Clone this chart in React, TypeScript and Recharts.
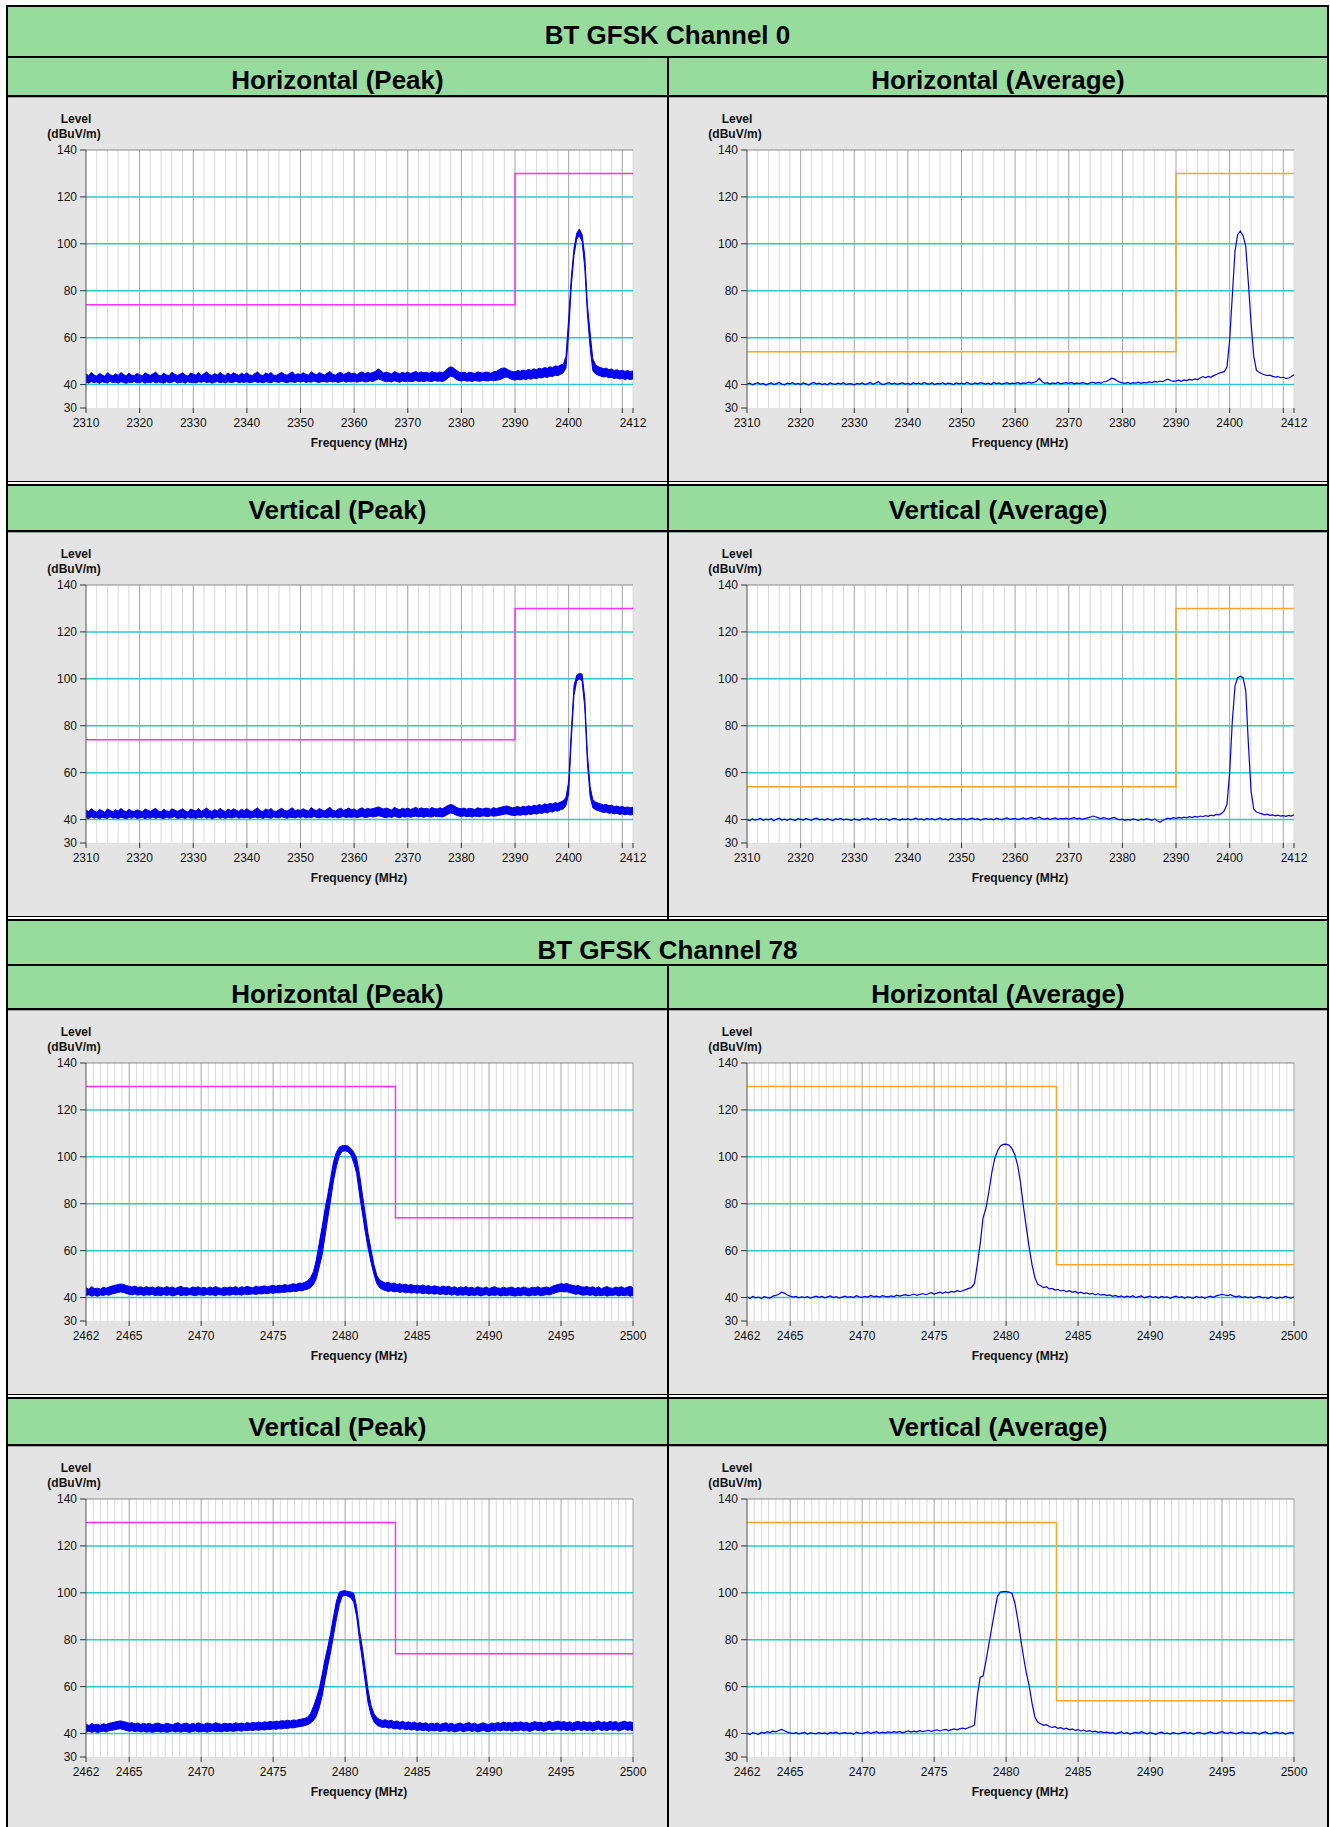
import React from 'react'
import { ComposedChart, Area, Line, XAxis, YAxis, CartesianGrid } from 'recharts'

// sampling of the traces (MHz)
const ch0Start = 2310
const ch0Step = 0.5
const ch78Start = 2462
const ch78Step = 0.2

// BT GFSK Channel 0, horizontal peak (band low / high, dBuV/m)
const ch0HorPeakHi = [
  44.5, 43.8, 45.2, 44.0, 43.6, 44.8, 44.1, 43.5, 45.0, 44.2, 43.7, 44.6, 43.9, 45.1, 44.3, 43.6, 44.9, 44.0, 43.8, 44.7,
  44.2, 43.6, 45.0, 44.4, 43.9, 44.6, 45.3, 44.0, 43.7, 44.8, 44.1, 43.8, 45.2, 44.5, 43.9, 44.3, 45.0, 44.1, 43.6, 44.9,
  44.4, 44.0, 45.1, 43.8, 44.6, 45.4, 44.2, 43.9, 44.7, 44.0, 45.2, 44.3, 43.8, 44.9, 44.1, 45.0, 44.4, 43.9, 44.8, 44.2,
  45.0, 44.1, 43.9, 44.7, 45.3, 44.2, 43.8, 44.9, 44.4, 45.1, 44.0, 43.9, 44.6, 45.2, 44.3, 44.0, 44.8, 45.4, 44.1, 44.6,
  44.3, 45.0, 44.4, 44.0, 45.5, 44.6, 44.2, 45.1, 44.5, 44.1, 44.9, 45.6, 44.4, 44.0, 44.8, 45.2, 44.3, 44.7, 45.3, 44.6,
  44.9, 44.2, 45.0, 45.4, 44.6, 45.2, 44.8, 45.1, 45.7, 46.6, 45.9, 44.9, 45.3, 44.9, 44.5, 45.6, 45.0, 44.6, 45.2, 44.8,
  45.3, 44.7, 45.1, 45.6, 44.9, 45.4, 45.0, 45.2, 44.8, 45.5, 45.1, 44.9, 45.4, 45.0, 45.8, 47.0, 47.6, 47.1, 46.2, 45.4,
  45.0, 45.3, 44.8, 45.2, 45.0, 44.7, 45.4, 45.1, 44.9, 45.3, 45.2, 44.8, 45.5, 45.6, 46.3, 46.9, 47.1, 46.6, 45.9, 45.6,
  45.4, 46.0, 45.7, 46.2, 45.9, 46.4, 46.1, 46.7, 46.3, 47.0, 46.6, 47.3, 46.9, 47.6, 47.2, 48.0, 47.7, 48.4, 48.6, 52,
  68, 86, 98, 104.5, 106.3, 104, 95, 74, 62, 51, 48.5, 47.6, 47.2, 46.8, 47.0, 46.4, 46.6, 46.0, 46.3, 45.8,
  46.1, 45.6, 46.0, 45.5, 45.8,
]
const ch0HorPeakLo = [
  41.0, 40.6, 41.3, 40.8, 41.1, 40.5, 41.2, 40.9, 40.7, 41.4, 40.8, 41.0, 40.6, 41.2, 40.9, 40.5, 41.1, 40.8, 41.3, 40.7,
  40.9, 41.2, 40.6, 41.0, 40.8, 41.3, 40.7, 41.1, 40.9, 40.6, 41.2, 40.8, 41.0, 41.4, 40.7, 40.9, 41.1, 40.6, 41.3, 40.8,
  41.0, 40.7, 41.2, 40.9, 41.4, 40.8, 41.1, 40.6, 41.0, 41.3, 40.8, 41.1, 40.7, 41.2, 40.9, 41.0, 41.4, 40.8, 41.1, 40.9,
  41.2, 40.8, 41.0, 41.3, 40.9, 41.1, 40.7, 41.2, 41.0, 40.8, 41.3, 41.1, 40.9, 41.4, 41.0, 40.8, 41.2, 41.1, 40.9, 41.3,
  41.1, 41.4, 40.9, 41.2, 41.0, 41.5, 41.1, 40.9, 41.3, 41.2, 41.0, 41.4, 41.1, 41.3, 40.9, 41.2, 41.5, 41.0, 41.3, 41.1,
  41.4, 41.0, 41.3, 41.5, 41.1, 41.2, 41.6, 41.3, 41.8, 42.4, 42.0, 41.5, 41.2, 41.4, 41.1, 41.6, 41.3, 41.0, 41.5, 41.2,
  41.5, 41.2, 41.4, 41.7, 41.3, 41.5, 41.2, 41.6, 41.4, 41.3, 41.7, 41.4, 41.5, 41.3, 41.8, 42.8, 43.6, 43.2, 42.3, 41.7,
  41.5, 41.8, 41.4, 41.6, 41.3, 41.7, 41.5, 41.4, 41.8, 41.6, 41.5, 41.9, 41.6, 41.8, 42.0, 42.4, 43.0, 43.2, 42.6, 42.1,
  41.9, 42.2, 42.0, 42.4, 42.1, 42.6, 42.3, 42.8, 42.5, 43.0, 42.8, 43.3, 43.0, 43.6, 43.4, 44.0, 43.8, 44.4, 45.0, 47,
  62, 82, 95, 102, 103.5, 101, 90, 70, 56, 46, 44.5, 44.0, 43.6, 43.2, 43.4, 42.9, 43.0, 42.6, 42.8, 42.4,
  42.6, 42.2, 42.5, 42.1, 42.4,
]

// Channel 0, horizontal average
const ch0HorAvg = [
  40.2, 40.6, 39.9, 40.4, 40.8, 40.1, 40.5, 39.8, 40.3, 40.7, 40.0, 40.4, 40.9, 40.2, 39.9, 40.6, 40.3, 40.8, 40.1, 40.5,
  40.0, 40.7, 40.3, 39.8, 40.5, 40.9, 40.2, 40.6, 40.0, 40.4, 39.9, 40.7, 40.3, 40.1, 40.6, 40.2, 40.8, 40.0, 40.4, 40.3,
  39.9, 40.5, 40.2, 40.7, 40.0, 40.4, 40.9, 40.1, 40.6, 41.2, 40.3, 40.0, 40.5, 40.8, 40.2, 40.6, 40.1, 40.4, 40.7, 40.2,
  40.5, 40.0, 40.8, 40.3, 40.6, 40.1, 40.9, 40.4, 40.2, 40.7, 40.0, 40.5, 40.3, 40.8, 40.1, 40.6, 40.4, 40.0, 40.7, 40.3,
  40.6, 40.2, 40.9, 40.4, 40.1, 40.7, 40.3, 40.8, 40.5, 40.2, 40.6, 40.0, 40.9, 40.4, 40.7, 40.2, 40.5, 40.8, 40.3, 40.6,
  40.4, 40.9, 40.3, 40.7, 40.5, 41.0, 40.6, 40.9, 41.4, 42.6, 41.3, 40.5, 40.8, 40.2, 40.7, 40.4, 40.9, 40.3, 40.6, 40.8,
  40.5, 40.9, 40.3, 40.7, 40.4, 40.8, 40.6, 40.2, 40.7, 41.0, 40.5, 40.9, 40.6, 41.1, 41.3, 41.9, 42.7, 42.4, 41.6, 41.0,
  40.7, 40.5, 40.9, 40.4, 40.8, 40.6, 41.0, 40.5, 40.9, 40.7, 41.1, 40.8, 41.3, 41.0, 41.5, 41.2, 41.8, 42.3, 41.7, 41.4,
  41.6, 41.9, 41.4, 42.0, 41.7, 42.2, 41.9, 42.4, 42.1, 42.8, 43.4, 42.9, 43.5, 43.1, 43.8, 44.3, 44.8, 45.2, 45.5, 47.5,
  59, 78, 97, 104, 105.4, 103.5, 99, 83, 66, 52, 46, 45.2, 44.6, 44.2, 43.8, 44.0, 43.5, 43.2, 43.4, 42.9,
  43.1, 42.6, 42.8, 43.4, 44.2,
]

// Channel 0, vertical peak
const ch0VerPeakHi = [
  44.0, 43.4, 44.6, 43.7, 43.2, 44.3, 43.8, 43.1, 44.5, 43.9, 43.3, 44.2, 43.6, 44.7, 43.9, 43.2, 44.4, 43.7, 43.4, 44.1,
  43.8, 43.2, 44.5, 44.0, 43.5, 44.2, 44.8, 43.6, 43.3, 44.4, 43.7, 43.4, 44.6, 44.1, 43.5, 43.9, 44.6, 43.7, 43.2, 44.5,
  44.0, 43.6, 44.7, 43.4, 44.2, 44.9, 43.8, 43.5, 44.3, 43.6, 44.8, 43.9, 43.4, 44.5, 43.7, 44.6, 44.0, 43.5, 44.4, 43.8,
  44.6, 43.7, 43.5, 44.3, 44.9, 43.8, 43.4, 44.5, 44.0, 44.7, 43.6, 43.5, 44.2, 44.8, 43.9, 43.6, 44.4, 45.0, 43.7, 44.2,
  43.9, 44.6, 44.0, 43.6, 45.1, 44.2, 43.8, 44.7, 44.1, 43.7, 44.5, 45.2, 44.0, 43.6, 44.4, 44.8, 43.9, 44.3, 44.9, 44.2,
  44.5, 43.8, 44.6, 45.0, 44.2, 44.8, 44.4, 44.7, 45.0, 45.4, 44.9, 44.5, 44.9, 44.5, 44.1, 45.2, 44.6, 44.2, 44.8, 44.4,
  44.9, 44.3, 44.7, 45.2, 44.5, 45.0, 44.6, 44.8, 44.4, 45.1, 44.7, 44.5, 45.0, 44.6, 45.4, 46.0, 46.4, 46.1, 45.3, 44.8,
  44.6, 44.9, 44.4, 44.8, 44.6, 44.3, 45.0, 44.7, 44.5, 44.9, 44.8, 44.4, 45.1, 44.6, 45.0, 45.3, 45.6, 45.8, 45.4, 45.0,
  45.2, 45.6, 45.1, 45.7, 45.3, 45.9, 45.5, 46.1, 45.8, 46.4, 46.0, 46.7, 46.3, 46.9, 46.6, 47.2, 46.9, 47.5, 48.0, 49.5,
  56, 78, 97, 101.5, 102.3, 102, 92, 68, 54, 48.5, 47.5, 47.0, 46.6, 46.2, 46.5, 45.9, 46.1, 45.5, 45.8, 45.3,
  45.6, 45.1, 45.4, 45.0, 45.3,
]
const ch0VerPeakLo = [
  40.8, 40.4, 41.1, 40.6, 40.9, 40.3, 41.0, 40.7, 40.5, 41.2, 40.6, 40.8, 40.4, 41.0, 40.7, 40.3, 40.9, 40.6, 41.1, 40.5,
  40.7, 41.0, 40.4, 40.8, 40.6, 41.1, 40.5, 40.9, 40.7, 40.4, 41.0, 40.6, 40.8, 41.2, 40.5, 40.7, 40.9, 40.4, 41.1, 40.6,
  40.8, 40.5, 41.0, 40.7, 41.2, 40.6, 40.9, 40.4, 40.8, 41.1, 40.6, 40.9, 40.5, 41.0, 40.7, 40.8, 41.2, 40.6, 40.9, 40.7,
  41.0, 40.6, 40.8, 41.1, 40.7, 40.9, 40.5, 41.0, 40.8, 40.6, 41.1, 40.9, 40.7, 41.2, 40.8, 40.6, 41.0, 40.9, 40.7, 41.1,
  40.9, 41.2, 40.7, 41.0, 40.8, 41.3, 40.9, 40.7, 41.1, 41.0, 40.8, 41.2, 40.9, 41.1, 40.7, 41.0, 41.3, 40.8, 41.1, 40.9,
  41.2, 40.8, 41.1, 41.3, 40.9, 41.0, 41.4, 41.1, 41.3, 41.6, 41.4, 41.0, 40.8, 41.2, 40.9, 41.4, 41.1, 40.8, 41.3, 41.0,
  41.3, 41.0, 41.2, 41.5, 41.1, 41.3, 41.0, 41.4, 41.2, 41.1, 41.5, 41.2, 41.3, 41.1, 41.6, 42.3, 42.8, 42.5, 41.9, 41.5,
  41.3, 41.6, 41.2, 41.4, 41.1, 41.5, 41.3, 41.2, 41.6, 41.4, 41.3, 41.7, 41.4, 41.6, 41.8, 42.0, 42.3, 42.4, 42.0, 41.8,
  41.7, 42.0, 41.8, 42.2, 41.9, 42.4, 42.1, 42.6, 42.3, 42.8, 42.6, 43.1, 42.8, 43.4, 43.2, 43.8, 43.6, 44.2, 44.5, 46,
  51, 74, 93, 99, 100, 99, 88, 64, 50, 45, 44.2, 43.8, 43.4, 43.0, 43.2, 42.7, 42.8, 42.4, 42.6, 42.2,
  42.4, 42.0, 42.3, 41.9, 42.2,
]

// Channel 0, vertical average
const ch0VerAvg = [
  40.0, 39.6, 40.3, 39.8, 40.1, 40.5, 39.7, 40.2, 39.9, 40.4, 39.5, 40.1, 40.6, 39.8, 40.2, 39.7, 40.3, 40.0, 39.6, 40.4,
  40.1, 39.8, 40.5, 40.0, 39.7, 40.3, 40.6, 39.9, 40.2, 39.8, 40.4, 40.0, 39.6, 40.3, 40.1, 40.5, 39.8, 40.2, 40.0, 39.7,
  40.3, 40.0, 39.7, 40.4, 40.1, 40.6, 39.9, 40.2, 40.5, 39.8, 40.3, 40.0, 40.4, 39.7, 40.2, 40.5, 40.1, 39.8, 40.3, 40.0,
  40.4, 39.9, 40.2, 40.6, 40.0, 40.3, 39.8, 40.5, 40.1, 40.4, 39.9, 40.2, 40.7, 40.0, 40.3, 39.8, 40.5, 40.2, 40.0, 40.4,
  40.1, 40.5, 39.9, 40.3, 40.6, 40.0, 40.4, 39.8, 40.2, 40.5, 40.1, 40.3, 39.9, 40.6, 40.2, 40.0, 40.4, 40.7, 40.1, 40.3,
  40.5, 40.0, 40.3, 40.7, 40.2, 40.5, 40.9, 40.3, 40.6, 41.0, 40.4, 40.2, 40.6, 40.0, 40.4, 40.7, 40.1, 40.5, 40.3, 40.6,
  40.2, 40.5, 40.8, 40.3, 40.6, 40.1, 40.4, 40.7, 41.0, 41.5, 41.2, 40.7, 40.4, 40.8, 40.5, 40.2, 40.6, 40.9, 40.3, 39.9,
  40.2, 39.7, 40.1, 39.8, 40.3, 40.0, 39.6, 40.2, 39.9, 40.4, 40.1, 39.7, 40.3, 39.5, 38.8, 39.6, 40.1, 40.6, 40.3, 40.8,
  40.5, 40.9, 40.6, 41.0, 40.7, 41.2, 40.8, 41.3, 41.0, 41.5, 41.2, 41.7, 41.4, 41.9, 41.6, 42.2, 42.0, 42.6, 43.8, 46.5,
  60, 82, 97, 100.5, 101.1, 100.5, 95, 72, 52, 44.5, 43.2, 42.8, 42.4, 42.0, 42.3, 41.8, 42.0, 41.6, 41.9, 41.5,
  41.7, 41.4, 41.8, 41.5, 42.0,
]

// BT GFSK Channel 78, horizontal peak
const ch78HorPeakHi = [
  44.2, 43.5, 44.6, 43.8, 44.0, 43.6, 44.4, 44.0, 44.5, 44.9, 45.2, 45.5, 45.8, 45.6, 45.1, 44.8, 44.5, 44.9, 44.3, 44.6, 44.1, 44.7, 44.2, 44.5, 44.0,
  44.6, 44.3, 44.1, 44.7, 44.2, 44.5, 43.9, 44.4, 44.8, 44.1, 44.3, 43.8, 44.5, 44.2, 44.6, 44.0, 44.4, 43.9, 44.5, 44.1, 44.7, 44.2, 43.9, 44.4, 44.1,
  44.5, 44.2, 44.7, 44.0, 44.6, 44.3, 44.8, 44.4, 44.1, 44.9, 44.5, 44.7, 45.0, 44.6, 44.9, 45.2, 44.8, 45.3, 45.0, 45.6, 45.2, 45.5, 45.9, 45.6, 46.2,
  46.0, 46.5, 47.2, 48.5, 51, 56, 63, 70, 77.5, 84, 91, 98, 102, 104.2, 104.7, 104.8, 104.6, 103.6, 102, 99.5, 92.5, 84, 75.5, 67, 60.5,
  54, 49.5, 47.5, 46.8, 46.2, 46.5, 45.9, 46.2, 45.6, 45.9, 45.4, 45.7, 45.2, 45.6, 45.0, 45.3, 44.9, 45.4, 44.8, 45.1, 44.6, 45.0, 44.7, 44.4, 44.9,
  44.5, 44.8, 44.2, 44.6, 44.0, 44.5, 44.3, 44.7, 44.1, 44.4, 43.9, 44.6, 44.2, 44.0, 44.5, 43.8, 44.3, 44.6, 44.1, 43.9, 44.4, 44.0, 44.2, 44.5, 43.8,
  44.3, 44.0, 44.5, 44.1, 43.9, 44.4, 44.2, 44.6, 44.0, 44.3, 44.5, 44.1, 44.8, 45.2, 45.6, 45.9, 45.7, 46.0, 45.5, 45.2, 44.9, 45.1, 44.6, 44.4, 44.7,
  44.2, 44.6, 44.0, 44.5, 43.8, 44.3, 44.7, 44.1, 43.9, 44.5, 44.2, 44.6, 44.0, 44.4, 44.8, 44.2,
]
const ch78HorPeakLo = [
  40.8, 41.2, 40.6, 41.0, 40.5, 41.1, 40.9, 41.3, 41.0, 41.5, 41.8, 42.1, 42.4, 42.2, 41.7, 41.4, 41.1, 41.5, 41.0, 41.3, 40.9, 41.2, 41.0, 41.4, 40.8,
  41.1, 40.8, 41.3, 40.9, 41.2, 40.7, 41.0, 41.4, 40.8, 41.1, 40.9, 41.3, 41.0, 40.8, 41.2, 41.1, 40.9, 41.4, 41.0, 41.2, 40.8, 41.3, 41.1, 40.9, 41.2,
  41.0, 41.4, 41.1, 41.3, 41.0, 41.5, 41.2, 41.4, 41.6, 41.3, 41.7, 41.5, 41.8, 41.6, 42.0, 41.8, 42.1, 42.0, 42.3, 42.2, 42.5, 42.4, 42.7, 42.6, 43.0,
  42.9, 43.3, 43.6, 44.2, 45.5, 48, 53, 58, 66, 74, 82, 90, 96, 100.5, 102.3, 102.6, 102.2, 100.8, 97.5, 93, 84, 76, 68, 61, 55,
  50, 46, 44.2, 43.4, 43.0, 42.6, 42.9, 42.4, 42.7, 42.2, 42.5, 42.0, 42.3, 41.9, 42.2, 41.8, 42.1, 41.6, 41.9, 41.5, 41.8, 41.4, 41.7, 41.3, 41.6,
  41.2, 41.5, 41.0, 41.4, 40.9, 41.2, 41.0, 41.3, 40.8, 41.1, 40.9, 41.2, 40.7, 41.0, 41.3, 40.8, 41.1, 40.9, 41.2, 40.7, 41.0, 40.8, 41.1, 40.9, 40.6,
  41.0, 40.8, 41.2, 40.9, 40.7, 41.1, 40.9, 41.2, 40.8, 41.0, 41.3, 41.1, 41.6, 42.0, 42.4, 42.6, 42.4, 42.5, 42.1, 41.8, 41.4, 41.6, 41.1, 41.0, 41.3,
  40.9, 41.2, 40.7, 41.0, 40.8, 41.1, 40.6, 41.0, 40.9, 41.2, 40.7, 41.0, 40.8, 41.1, 40.6, 40.9,
]

// Channel 78, horizontal average
const ch78HorAvg = [
  40.3, 39.7, 40.5, 39.9, 40.2, 39.6, 40.4, 40.0, 39.8, 40.6, 40.9, 41.4, 42.3, 41.9, 41.1, 40.6, 40.2, 40.5, 39.9, 40.3, 40.0, 40.4, 39.8, 40.2, 40.6,
  40.1, 40.5, 39.9, 40.3, 40.7, 40.0, 40.4, 39.8, 40.2, 40.6, 40.1, 40.4, 40.0, 40.8, 40.3, 40.1, 40.5, 40.2, 40.9, 40.4, 40.6, 40.2, 40.8, 40.5, 40.3,
  40.7, 40.4, 41.0, 40.6, 40.9, 41.2, 40.8, 41.1, 41.5, 40.9, 41.3, 41.7, 41.2, 41.6, 42.1, 41.5, 41.9, 42.3, 41.8, 42.4, 42.0, 42.6, 42.3, 42.9, 42.5,
  43.0, 43.4, 43.9, 44.3, 46, 54, 63, 74, 78, 85, 93, 99, 102.5, 104.6, 105.3, 105.4, 105.0, 103.6, 101, 96.5, 89, 79, 70, 61.5, 54,
  48.5, 45.6, 45.0, 44.2, 44.6, 43.7, 43.9, 43.2, 43.5, 42.8, 43.1, 42.5, 42.9, 42.2, 42.6, 41.9, 42.3, 41.7, 42.0, 41.5, 41.8, 41.2, 41.6, 41.0, 41.3,
  40.8, 41.1, 40.5, 40.9, 40.3, 40.7, 40.1, 40.6, 40.2, 40.8, 40.0, 40.4, 40.7, 39.9, 40.3, 40.6, 40.0, 40.4, 39.8, 40.5, 40.1, 40.3, 39.7, 40.2, 40.6,
  40.0, 40.4, 39.8, 40.3, 40.1, 39.7, 40.5, 40.0, 40.3, 39.8, 40.2, 40.6, 40.1, 40.7, 41.0, 41.4, 41.1, 40.8, 41.2, 40.6, 40.3, 40.7, 40.0, 40.4, 39.9,
  40.3, 39.8, 40.2, 40.5, 39.9, 40.1, 39.6, 40.4, 40.0, 39.7, 40.2, 39.9, 40.5, 40.1, 39.8, 40.3,
]

// Channel 78, vertical peak
const ch78VerPeakHi = [
  44.0, 43.4, 44.3, 43.7, 43.9, 43.5, 44.2, 43.8, 44.4, 44.6, 44.9, 45.2, 45.4, 45.1, 44.8, 44.4, 44.6, 44.1, 44.5, 43.9, 44.3, 44.0, 44.4, 43.8, 44.2,
  44.5, 44.0, 43.8, 44.4, 44.1, 43.7, 44.3, 44.6, 43.9, 44.2, 44.5, 43.8, 44.3, 44.0, 44.6, 44.1, 43.9, 44.5, 44.2, 44.0, 44.6, 44.3, 43.9, 44.4, 44.1,
  44.3, 44.0, 44.6, 44.2, 44.5, 44.1, 44.7, 44.3, 44.8, 44.5, 44.9, 44.6, 45.0, 44.8, 45.2, 44.9, 45.3, 45.1, 45.5, 45.3, 45.7, 45.4, 45.8, 45.6, 46.0,
  46.2, 46.5, 47.0, 48.5, 51.5, 55, 59, 65, 71.5, 77, 83, 90, 96.5, 100.3, 100.8, 100.9, 100.5, 100.4, 99.8, 94, 84, 76.5, 67.5, 58.5, 52,
  48.5, 46.8, 46.0, 45.6, 45.9, 45.3, 45.7, 45.0, 45.4, 44.8, 45.2, 44.6, 45.0, 44.5, 44.9, 44.3, 44.7, 44.2, 44.6, 44.0, 44.4, 44.1, 44.5, 43.9, 44.3,
  44.6, 44.0, 44.4, 43.8, 44.2, 44.5, 43.9, 44.3, 44.7, 44.0, 44.4, 43.8, 44.2, 44.6, 44.1, 43.9, 44.5, 44.2, 44.7, 44.3, 44.9, 44.5, 44.8, 44.4, 44.9,
  44.6, 45.0, 44.5, 44.8, 44.3, 44.7, 45.1, 44.6, 44.9, 44.4, 44.8, 45.2, 44.7, 45.0, 45.3, 44.8, 45.1, 44.6, 45.0, 44.5, 44.9, 45.2, 44.7, 45.1, 44.6,
  45.0, 44.5, 44.9, 45.3, 44.7, 45.0, 44.6, 45.2, 44.8, 45.1, 44.5, 44.9, 45.3, 44.8, 45.0, 44.6,
]
const ch78VerPeakLo = [
  40.6, 41.0, 40.5, 40.9, 40.4, 40.8, 41.0, 40.7, 41.2, 41.4, 41.6, 41.9, 42.0, 41.7, 41.3, 41.0, 41.2, 40.8, 41.1, 40.7, 41.0, 40.6, 40.9, 40.5, 40.8,
  41.0, 40.6, 40.9, 40.5, 40.8, 41.1, 40.7, 40.9, 40.6, 41.0, 40.8, 40.5, 40.9, 41.1, 40.7, 40.8, 41.0, 40.6, 40.9, 41.2, 40.8, 41.0, 40.7, 41.1, 40.9,
  41.2, 40.9, 41.1, 41.3, 41.0, 41.4, 41.2, 41.5, 41.3, 41.6, 41.4, 41.7, 41.5, 41.8, 41.7, 42.0, 41.8, 42.1, 42.0, 42.3, 42.2, 42.5, 42.4, 42.7, 42.9,
  43.1, 43.4, 43.8, 44.5, 45.5, 47.5, 51, 56, 62.5, 69, 75, 82, 89, 95, 98.5, 99, 98.5, 97.8, 96, 90, 80, 71, 62, 53, 48,
  45.0, 43.6, 43.0, 42.6, 42.8, 42.3, 42.5, 42.0, 42.3, 41.8, 42.1, 41.6, 41.9, 41.5, 41.8, 41.3, 41.6, 41.2, 41.5, 41.0, 41.3, 41.1, 41.4, 40.9, 41.2,
  41.3, 40.9, 41.2, 40.7, 41.0, 41.3, 40.8, 41.1, 41.4, 40.9, 41.2, 40.7, 41.0, 41.4, 40.9, 40.8, 41.3, 41.0, 41.5, 41.1, 41.6, 41.2, 41.5, 41.0, 41.4,
  41.2, 41.6, 41.1, 41.4, 40.9, 41.3, 41.7, 41.2, 41.5, 41.0, 41.4, 41.8, 41.3, 41.6, 41.9, 41.4, 41.7, 41.2, 41.6, 41.1, 41.5, 41.8, 41.3, 41.7, 41.2,
  41.6, 41.1, 41.5, 41.9, 41.3, 41.6, 41.2, 41.8, 41.4, 41.7, 41.1, 41.5, 41.9, 41.4, 41.6, 41.2,
]

// Channel 78, vertical average
const ch78VerAvg = [
  40.1, 39.6, 40.4, 40.0, 39.7, 40.5, 40.2, 40.8, 40.4, 41.0, 40.7, 41.3, 41.8, 41.2, 40.6, 40.3, 40.0, 40.4, 39.9, 40.2, 40.5, 39.8, 40.3, 40.1, 39.9,
  40.4, 40.0, 40.3, 39.8, 40.5, 40.1, 40.6, 39.9, 40.2, 40.4, 40.0, 40.3, 39.7, 40.6, 40.2, 40.0, 40.4, 40.7, 40.1, 40.5, 40.8, 40.2, 40.6, 40.3, 40.7,
  40.4, 40.8, 40.5, 40.9, 40.3, 40.7, 41.1, 40.6, 41.0, 40.7, 41.2, 40.8, 41.1, 41.4, 40.9, 41.3, 41.6, 41.1, 41.5, 41.8, 41.3, 41.7, 42.0, 41.6, 42.1,
  42.3, 42.0, 42.6, 43.0, 43.6, 56, 64, 64.5, 71, 78, 85, 92, 98.5, 100.3, 100.5, 100.5, 100.3, 99.8, 96, 89, 81, 73, 66, 60.5, 53,
  47, 44.8, 44.2, 43.5, 43.8, 43.0, 42.6, 42.9, 42.2, 42.5, 41.9, 42.3, 41.6, 42.0, 41.4, 41.7, 41.1, 41.5, 40.9, 41.2, 40.7, 41.0, 40.5, 40.8, 40.4,
  40.6, 40.2, 40.5, 39.9, 40.3, 40.7, 40.0, 40.4, 39.8, 40.2, 40.5, 40.1, 40.8, 40.3, 39.9, 40.4, 40.1, 39.7, 40.3, 40.6, 40.0, 40.2, 39.8, 40.4, 40.1,
  39.9, 40.3, 40.6, 40.0, 40.4, 39.8, 40.2, 40.5, 40.1, 39.9, 40.3, 40.7, 40.2, 40.0, 40.5, 40.8, 40.3, 40.1, 40.6, 40.2, 39.9, 40.4, 40.7, 40.1, 40.3,
  40.0, 40.5, 40.2, 39.8, 40.4, 40.7, 40.1, 39.9, 40.3, 40.6, 40.0, 40.4, 39.8, 40.2, 40.5, 40.1,
]

// limit lines (frequency corners, level)
const ch0LimitFreq = [2310, 2390, 2390, 2412]
const ch0PeakLimit = [74, 74, 130, 130]
const ch0AvgLimit = [54, 54, 130, 130]
const ch78LimitFreq = [2462, 2483.5, 2483.5, 2500]
const ch78PeakLimit = [130, 130, 74, 74]
const ch78AvgLimit = [130, 130, 54, 54]

// axes
const yTicks = [30, 40, 60, 80, 100, 120, 140]
const yLevelLines = [40, 60, 80, 100, 120]
const ch0Ticks = [2310, 2320, 2330, 2340, 2350, 2360, 2370, 2380, 2390, 2400, 2410, 2412]
const ch0Unlabeled = [2410]
const ch78Ticks = [2462, 2465, 2470, 2475, 2480, 2485, 2490, 2495, 2500]

const ch0Major = [2320, 2330, 2340, 2350, 2360, 2370, 2380, 2390, 2400, 2410]
const ch0Minor = Array.from({ length: 51 }, (_, i) => 2312 + 2 * i).filter(v => v % 10 !== 0)
const ch78Major = [2465, 2470, 2475, 2480, 2485, 2490, 2495, 2500]
const ch78Minor = Array.from({ length: 76 }, (_, i) => 2462.5 + 0.5 * i).filter(v => v % 5 !== 0)

const FONT = "'Liberation Sans', Arial, Helvetica, sans-serif"
const GREEN = '#97dc9d'
const PANEL = '#e4e4e4'
const PANEL_H = 384

const freqs = (start: number, step: number, n: number) =>
  Array.from({ length: n }, (_, i) => Math.round((start + i * step) * 100) / 100)

const bandRows = (start: number, step: number, lo: number[], hi: number[]) => {
  const n = Math.min(lo.length, hi.length)
  return freqs(start, step, n).map((f, i) => ({ f, band: [lo[i], hi[i]] }))
}
const lineRows = (start: number, step: number, v: number[]) =>
  freqs(start, step, v.length).map((f, i) => ({ f, v: v[i] }))
const limitRows = (f: number[], v: number[]) => f.map((x, i) => ({ f: x, v: v[i] }))

interface SpectrumProps {
  width: number
  data: any[]
  peak: boolean
  limit: { f: number; v: number }[]
  limitColor: string
  domain: [number, number]
  ticks: number[]
  unlabeled: number[]
  minor: number[]
  major: number[]
}

function Spectrum({ width, data, peak, limit, limitColor, domain, ticks, unlabeled, minor, major }: SpectrumProps) {
  return (
    <ComposedChart width={width} height={PANEL_H} margin={{ top: 53, right: width - 625, bottom: 43, left: 0 }}>
      <CartesianGrid fill="#ffffff" horizontal={false} verticalValues={minor} stroke="#dadada" />
      <CartesianGrid horizontal={false} verticalValues={major} stroke="#a4a4a4" />
      <CartesianGrid vertical={false} horizontalValues={yLevelLines} stroke="#2ccaca" strokeWidth={1.5} />
      <CartesianGrid vertical={false} horizontalValues={[140]} stroke="#8a8a8a" />
      <XAxis
        type="number"
        dataKey="f"
        domain={domain}
        ticks={ticks}
        interval={0}
        allowDataOverflow
        height={30}
        axisLine={false}
        tickSize={5}
        tickMargin={5}
        tickLine={{ stroke: '#333' }}
        tick={{ fontSize: 12, fill: '#111' }}
        tickFormatter={(v: number) => (unlabeled.includes(v) ? '' : String(v))}
      />
      <YAxis
        type="number"
        domain={[30, 140]}
        ticks={yTicks}
        interval={0}
        allowDataOverflow
        width={78}
        axisLine={{ stroke: '#555' }}
        tickSize={6}
        tickMargin={3}
        tickLine={{ stroke: '#333' }}
        tick={{ fontSize: 12, fill: '#111' }}
      />
      {peak ? (
        <Area
          data={data}
          type="linear"
          dataKey="band"
          stroke="#0000f0"
          strokeWidth={1}
          fill="#0000f0"
          fillOpacity={1}
          dot={false}
          activeDot={false}
          isAnimationActive={false}
        />
      ) : (
        <Line
          data={data}
          type="linear"
          dataKey="v"
          stroke="#0000f0"
          strokeWidth={1.2}
          dot={false}
          activeDot={false}
          isAnimationActive={false}
        />
      )}
      <Line
        data={limit}
        type="linear"
        dataKey="v"
        stroke={limitColor}
        strokeWidth={1.5}
        dot={false}
        activeDot={false}
        isAnimationActive={false}
      />
    </ComposedChart>
  )
}

interface PanelProps extends SpectrumProps {
  x: number
  y: number
}

function Panel(props: PanelProps) {
  const { x, y, width } = props
  const label: React.CSSProperties = {
    position: 'absolute',
    width: 100,
    textAlign: 'center',
    fontSize: 12,
    fontWeight: 'bold',
    lineHeight: '14px',
    color: '#111',
  }
  return (
    <div style={{ position: 'absolute', left: x, top: y, width, height: PANEL_H, background: PANEL, borderTop: '1px solid #a0a0a0', boxSizing: 'border-box' }}>
      <div style={{ position: 'absolute', left: 0, top: -1 }}>
        <Spectrum {...props} />
      </div>
      <div style={{ ...label, left: 18, top: 14 }}>Level</div>
      <div style={{ ...label, left: 16, top: 29 }}>(dBuV/m)</div>
      <div style={{ ...label, left: 301, top: 338, width: 100 }}>Frequency (MHz)</div>
    </div>
  )
}

function Band({ x, y, w, h, text, textTop }: { x: number; y: number; w: number; h: number; text: string; textTop: number }) {
  return (
    <div style={{ position: 'absolute', left: x, top: y, width: w, height: h, background: GREEN }}>
      <div style={{ position: 'absolute', left: 0, right: 0, top: textTop - y, textAlign: 'center', fontSize: 26, lineHeight: '26px', fontWeight: 'bold', color: '#000', whiteSpace: 'nowrap' }}>
        {text}
      </div>
    </div>
  )
}

function Gap({ y }: { y: number }) {
  return (
    <>
      <div style={{ position: 'absolute', left: 8, top: y, width: 659, height: 2, background: '#fff' }} />
      <div style={{ position: 'absolute', left: 669, top: y, width: 658, height: 2, background: '#fff' }} />
    </>
  )
}

const LX = 8
const LW = 659
const RX = 669
const RW = 658

export default function App() {
  const common0 = { domain: [2310, 2412] as [number, number], ticks: ch0Ticks, unlabeled: ch0Unlabeled, minor: ch0Minor, major: ch0Major }
  const common78 = { domain: [2462, 2500] as [number, number], ticks: ch78Ticks, unlabeled: [] as number[], minor: ch78Minor, major: ch78Major }
  const lim0Peak = limitRows(ch0LimitFreq, ch0PeakLimit)
  const lim0Avg = limitRows(ch0LimitFreq, ch0AvgLimit)
  const lim78Peak = limitRows(ch78LimitFreq, ch78PeakLimit)
  const lim78Avg = limitRows(ch78LimitFreq, ch78AvgLimit)
  const magenta = '#ff30ff'
  const orange = '#ffa526'

  return (
    <div style={{ position: 'relative', width: 1330, height: 1827, overflow: 'hidden', fontFamily: FONT, background: '#fff' }}>
      <style>{'body{margin:0}'}</style>
      <div style={{ position: 'absolute', left: 6, top: 5, width: 1323, height: 1830, background: '#000' }} />

      <Band x={8} y={7} w={1319} h={49} text="BT GFSK Channel 0" textTop={22} />
      <Band x={LX} y={58} w={LW} h={37} text="Horizontal (Peak)" textTop={67} />
      <Band x={RX} y={58} w={RW} h={37} text="Horizontal (Average)" textTop={67} />
      <Panel x={LX} y={97} width={LW} data={bandRows(ch0Start, ch0Step, ch0HorPeakLo, ch0HorPeakHi)} peak limit={lim0Peak} limitColor={magenta} {...common0} />
      <Panel x={RX} y={97} width={RW} data={lineRows(ch0Start, ch0Step, ch0HorAvg)} peak={false} limit={lim0Avg} limitColor={orange} {...common0} />
      <Gap y={482} />

      <Band x={LX} y={486} w={LW} h={44} text="Vertical (Peak)" textTop={497} />
      <Band x={RX} y={486} w={RW} h={44} text="Vertical (Average)" textTop={497} />
      <Panel x={LX} y={532} width={LW} data={bandRows(ch0Start, ch0Step, ch0VerPeakLo, ch0VerPeakHi)} peak limit={lim0Peak} limitColor={magenta} {...common0} />
      <Panel x={RX} y={532} width={RW} data={lineRows(ch0Start, ch0Step, ch0VerAvg)} peak={false} limit={lim0Avg} limitColor={orange} {...common0} />
      <Gap y={917} />

      <Band x={8} y={921} w={1319} h={43} text="BT GFSK Channel 78" textTop={937} />
      <Band x={LX} y={966} w={LW} h={42} text="Horizontal (Peak)" textTop={981} />
      <Band x={RX} y={966} w={RW} h={42} text="Horizontal (Average)" textTop={981} />
      <Panel x={LX} y={1010} width={LW} data={bandRows(ch78Start, ch78Step, ch78HorPeakLo, ch78HorPeakHi)} peak limit={lim78Peak} limitColor={magenta} {...common78} />
      <Panel x={RX} y={1010} width={RW} data={lineRows(ch78Start, ch78Step, ch78HorAvg)} peak={false} limit={lim78Avg} limitColor={orange} {...common78} />
      <Gap y={1395} />

      <Band x={LX} y={1399} w={LW} h={45} text="Vertical (Peak)" textTop={1414} />
      <Band x={RX} y={1399} w={RW} h={45} text="Vertical (Average)" textTop={1414} />
      <Panel x={LX} y={1446} width={LW} data={bandRows(ch78Start, ch78Step, ch78VerPeakLo, ch78VerPeakHi)} peak limit={lim78Peak} limitColor={magenta} {...common78} />
      <Panel x={RX} y={1446} width={RW} data={lineRows(ch78Start, ch78Step, ch78VerAvg)} peak={false} limit={lim78Avg} limitColor={orange} {...common78} />
    </div>
  )
}
